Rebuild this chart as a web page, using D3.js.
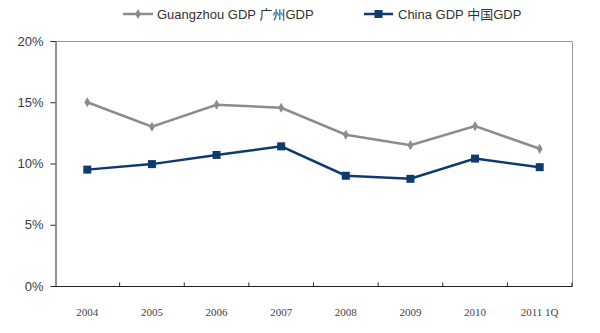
<!DOCTYPE html>
<html>
<head>
<meta charset="utf-8">
<script src="https://cdn.jsdelivr.net/npm/d3@7"></script>
<style>
html,body{margin:0;padding:0;background:#fff;}
svg{display:block;}
</style>
</head>
<body>
<svg id="chart" width="600" height="333"></svg>
<script>
const categories = ["2004","2005","2006","2007","2008","2009","2010","2011 1Q"];
const guangzhouGDP = [15.0, 13.0, 14.8, 14.55, 12.35, 11.5, 13.05, 11.2];
const chinaGDP = [9.5, 9.95, 10.7, 11.4, 9.0, 8.75, 10.4, 9.7];
const yTicks = [0, 5, 10, 15, 20];
const seriesNames = ["Guangzhou GDP 广州GDP", "China GDP 中国GDP"];

const svg = d3.select("#chart");
const m = {left:55, right:572, top:41, bottom:286};

const x = d3.scaleBand().domain(categories).range([m.left, m.right]);
const y = d3.scaleLinear().domain([0,20]).range([m.bottom, m.top]);

// frame top/right
svg.append("path")
  .attr("d", `M${m.left},${m.top+0.5}H${m.right+0.5}V${m.bottom}`)
  .attr("fill","none").attr("stroke","#999").attr("stroke-width",1);

// y axis
const yAxis = d3.axisLeft(y).tickValues(yTicks).tickFormat(d=>d+"%").tickSize(5).tickSizeOuter(0);
const gy = svg.append("g").attr("transform",`translate(${m.left+0.5},0)`).call(yAxis);
gy.select(".domain").attr("stroke","#222");
gy.selectAll(".tick line").attr("stroke","#222");
gy.selectAll(".tick text").attr("x",-12).attr("font-family","Liberation Sans, Arial, sans-serif")
  .attr("font-size",13).attr("fill","#3a3a4a");

// x axis
const gx = svg.append("g").attr("transform",`translate(0,${m.bottom+0.5})`);
gx.append("line").attr("x1",m.left).attr("x2",m.right+0.5).attr("stroke","#222");
const bounds = categories.map(c=>x(c)+x.bandwidth());
gx.selectAll("line.t").data(bounds).enter().append("line").attr("class","t")
  .attr("x1",d=>d).attr("x2",d=>d).attr("y1",0).attr("y2",-4).attr("stroke","#222");
gx.selectAll("text").data(categories).enter().append("text")
  .attr("x",d=>x(d)+x.bandwidth()/2).attr("y",29)
  .attr("text-anchor","middle")
  .attr("font-family","Liberation Serif, DejaVu Serif, serif")
  .attr("font-size",11).attr("fill","#444")
  .text(d=>d);

const line = d3.line().x((d,i)=>x(categories[i])+x.bandwidth()/2).y(d=>y(d));

// Guangzhou series
svg.append("path").datum(guangzhouGDP).attr("d",line)
  .attr("fill","none").attr("stroke","#8c8c8c").attr("stroke-width",2.5);
svg.selectAll("path.gz").data(guangzhouGDP).enter().append("path").attr("class","gz")
  .attr("d", d3.symbol(d3.symbolDiamond, 30))
  .attr("transform",(d,i)=>`translate(${x(categories[i])+x.bandwidth()/2},${y(d)})`)
  .attr("fill","#8c8c8c");

// China series
svg.append("path").datum(chinaGDP).attr("d",line)
  .attr("fill","none").attr("stroke","#0e3a6e").attr("stroke-width",2.5);
svg.selectAll("rect.cn").data(chinaGDP).enter().append("rect").attr("class","cn")
  .attr("x",(d,i)=>x(categories[i])+x.bandwidth()/2-4)
  .attr("y",d=>y(d)-4).attr("width",8).attr("height",8)
  .attr("fill","#0e3a6e");

// legend
const leg = [
  {name:seriesNames[0], x1:123, x2:153, tx:157, color:"#8c8c8c", sym:"d"},
  {name:seriesNames[1], x1:364, x2:393, tx:398, color:"#0e3a6e", sym:"s"}
];
leg.forEach(l=>{
  const g = svg.append("g");
  g.append("line").attr("x1",l.x1).attr("x2",l.x2).attr("y1",14).attr("y2",14)
    .attr("stroke",l.color).attr("stroke-width",2.5);
  const cx=(l.x1+l.x2)/2;
  if(l.sym==="d"){
    g.append("path").attr("d",d3.symbol(d3.symbolDiamond,30)).attr("transform",`translate(${cx},14)`).attr("fill",l.color);
  } else {
    g.append("rect").attr("x",cx-4).attr("y",10).attr("width",8).attr("height",8).attr("fill",l.color);
  }
  g.append("text").attr("x",l.tx).attr("y",18.5)
    .attr("font-family","Liberation Sans, Arial, 'Noto Sans CJK SC', sans-serif")
    .attr("font-size",13).attr("fill","#333").text(l.name);
});
</script>
</body>
</html>
